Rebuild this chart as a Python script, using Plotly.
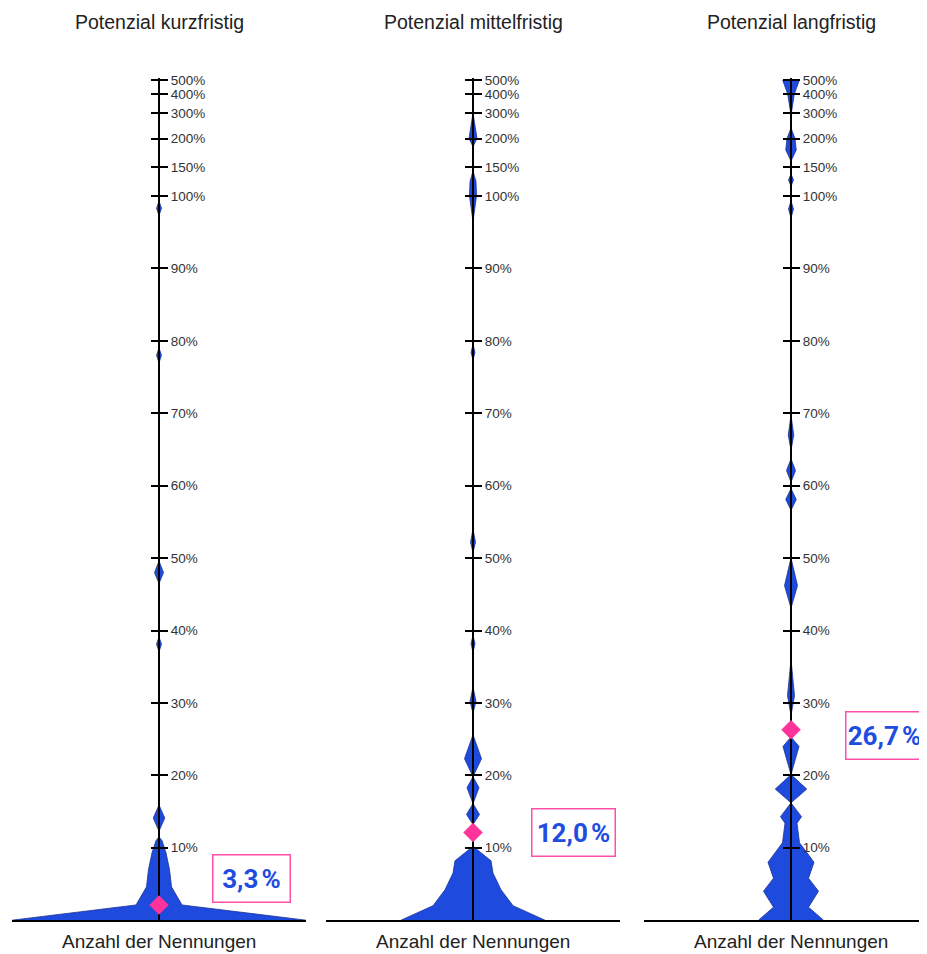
import numpy as np
import plotly.graph_objects as go

# ---------------- data ----------------
panel_titles = ["Potenzial kurzfristig", "Potenzial mittelfristig", "Potenzial langfristig"]
x_title = "Anzahl der Nennungen"

tick_values = [10, 20, 30, 40, 50, 60, 70, 80, 90, 100, 150, 200, 300, 400, 500]
tick_labels = ["10%", "20%", "30%", "40%", "50%", "60%", "70%", "80%", "90%",
               "100%", "150%", "200%", "300%", "400%", "500%"]

# axis scale: linear up to 100 %, compressed above
scale_values = [0, 100, 150, 200, 300, 400, 500]
scale_pos = [0, 100, 104.0, 107.93, 111.49, 114.07, 115.96]

# potential (%) and number of mentions (polygon vertices)
kurz_werte = [0, 2.1, 4.6, 7, 9.3, 11, 11.5, 12.3, 14.1, 15.9, 37.1, 38.1, 39.1,
              46.5, 48, 49.6, 77, 78, 79, 97.3, 98.3, 99.3]
kurz_anzahl = [58.8, 9.2, 5.0, 4.2, 2.8, 1.2, 0, 0, 2.3, 0, 0, 1.0, 0,
               0, 1.8, 0, 0, 1.0, 0, 0, 1.0, 0]

mittel_werte = [0, 2, 4.2, 6.5, 8.2, 10.2, 13.2, 14.6, 16.1, 18.3, 19.8, 22.3, 25.6,
                28.6, 30.2, 32.2, 37, 38.2, 39.3, 50.8, 52.2, 54, 77.4, 78.4, 79.5,
                96.5, 100, 125, 143, 186, 200, 300]
mittel_anzahl = [28.8, 16, 11.2, 8, 7.2, 0, 0, 2.6, 0, 2.4, 0, 3.4, 0,
                 0, 1.2, 0, 0, 0.8, 0, 0, 1.0, 0, 0, 0.8, 0,
                 0, 1.4, 1.2, 0, 0, 1.6, 0]

lang_werte = [0, 1.8, 4, 5.8, 8, 10.7, 13.4, 14.3, 16.2, 18.1, 20.1, 24, 25.3,
              28.3, 31, 36, 43.1, 46.2, 50, 56.6, 58.1, 59.6, 60.5, 62.1, 63.7,
              64.9, 67, 69.7, 97, 98.2, 99.3, 117, 127.6, 138, 160.5, 180, 200, 241,
              290, 400, 500]
lang_anzahl = [13, 7, 11, 7, 9.2, 3.4, 2.4, 4.2, 0, 6.3, 0, 3.2, 0,
               0, 1.4, 0, 0, 2.6, 0, 0, 2.1, 0, 0, 1.8, 0,
               0, 1.1, 0, 0, 1.0, 0, 0, 1.0, 0, 0, 2.1, 1.6, 0,
               0, 1.3, 3.3]

# marker position (%) and label of the average
mittelwert_pos = [2.1, 12.1, 26.3]
mittelwert_text = ["3,3\u202f%", "12,0\u202f%", "26,7\u202f%"]

# ---------------- styling / layout ----------------
OFF = 8                      # page offset of the figure (body margin)
FW, FH = 927 - OFF, 954 - OFF
BLUE = "rgb(30,74,222)"
EDGE = "rgb(24,52,150)"
PINK = "#ff3399"
Y_TOP = 116.3
PX0, PXU = 920.0, 7.28       # page pixel of 0 % and pixels per unit


def scale(v):
    return np.interp(np.asarray(v, dtype=float), scale_values, scale_pos)


def pxx(p):
    return (p - OFF) / FW


def pxy(p):
    return (FH - (p - OFF)) / FH


x_domains_px = [(12, 306), (326, 620), (644, 927)]
x_ranges = [(-58.8, 58.8), (-58.8, 58.8), (-58.8, 54.4)]
box_pos = [(36.8, 5.8, 76), (40.0, 12.1, 82), (37.2, 25.5, 76)]

y_dom = [pxy(PX0), pxy(PX0 - Y_TOP * PXU)]

series = [(kurz_werte, kurz_anzahl), (mittel_werte, mittel_anzahl), (lang_werte, lang_anzahl)]

fig = go.Figure()
layout = dict(
    width=FW, height=FH, margin=dict(l=0, r=0, t=0, b=0),
    paper_bgcolor="white", plot_bgcolor="rgba(0,0,0,0)", showlegend=False,
    font=dict(family="Liberation Sans, Arial, sans-serif", color="#222"),
)
annotations = []

for i, (werte, anzahl) in enumerate(series):
    xs = "" if i == 0 else str(i + 1)
    ys_main = xs
    ys_over = str(i + 4)
    d0, d1 = x_domains_px[i]
    r0, r1 = x_ranges[i]
    pos = pxx(d0 + (d1 - d0) * (-r0) / (r1 - r0))

    layout["xaxis" + xs] = dict(
        domain=[pxx(d0), min(1.0, pxx(d1))], range=[r0, r1], anchor="y" + ys_main,
        showline=True, linecolor="black", linewidth=2, ticks="",
        showticklabels=False, showgrid=False, zeroline=False, fixedrange=True)
    layout["yaxis" + ys_main] = dict(
        domain=y_dom, range=[0, Y_TOP], anchor="free", position=pos, side="right",
        showline=False, ticks="outside", ticklen=8, tickwidth=1.6, tickcolor="black",
        tickvals=list(scale(tick_values)), ticktext=tick_labels,
        tickfont=dict(size=13.5, color="#333"), showgrid=False, zeroline=False,
        fixedrange=True)
    layout["yaxis" + ys_over] = dict(
        overlaying="y" + ys_main, range=[0, Y_TOP], anchor="free", position=pos,
        side="left", showline=False, ticks="outside", ticklen=8, tickwidth=1.6,
        tickcolor="black", tickvals=list(scale(tick_values)), showticklabels=False,
        showgrid=False, zeroline=False, fixedrange=True)

    a = np.asarray(anzahl, dtype=float)
    yv = scale(werte)
    fig.add_trace(go.Scatter(
        x=np.concatenate([a, -a[::-1]]), y=np.concatenate([yv, yv[::-1]]),
        mode="lines", fill="toself", fillcolor=BLUE,
        line=dict(color=EDGE, width=0.8), hoverinfo="skip",
        xaxis="x" + xs, yaxis="y" + ys_main))
    # axis line (drawn between the violin and the average marker)
    fig.add_trace(go.Scatter(
        x=[0, 0], y=[0, Y_TOP], mode="lines", line=dict(color="black", width=2),
        hoverinfo="skip", xaxis="x" + xs, yaxis="y" + ys_over))
    fig.add_trace(go.Scatter(
        x=[0], y=scale([mittelwert_pos[i]]), mode="markers",
        marker=dict(symbol="diamond", size=15, color=PINK, line=dict(width=0)),
        hoverinfo="skip", xaxis="x" + xs, yaxis="y" + ys_over))

    bx, by, bw = box_pos[i]
    annotations.append(dict(
        x=bx, y=float(scale(by)), xref="x" + xs, yref="y" + ys_main,
        text="<b>" + mittelwert_text[i] + "</b>", showarrow=False,
        xanchor="center", yanchor="middle",
        font=dict(family="Roboto, Liberation Sans, sans-serif",
                  size=26, color="rgb(32,76,224)"),
        bordercolor="#ff4fa8", borderwidth=1.5, borderpad=0, bgcolor="white",
        width=bw, height=46, align="center", valign="middle"))
    annotations.append(dict(
        x=0, y=pxy(17), xref="x" + xs, yref="paper", text=panel_titles[i],
        showarrow=False, xanchor="center", yanchor="middle",
        font=dict(size=19.5, color="#222")))
    annotations.append(dict(
        x=0, y=pxy(941), xref="x" + xs, yref="paper", text=x_title,
        showarrow=False, xanchor="center", yanchor="middle",
        font=dict(size=19, color="#222")))

layout["annotations"] = annotations
fig.update_layout(**layout)
fig.write_html("out.html")
